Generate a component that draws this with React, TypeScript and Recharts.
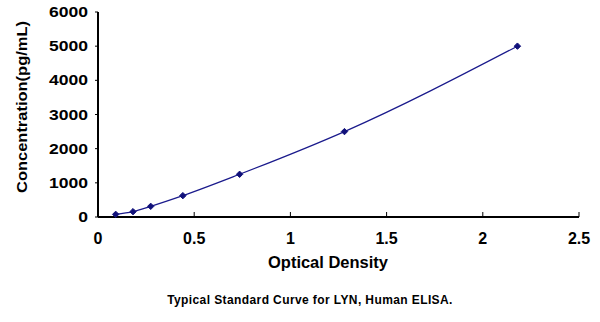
import React from "react";
import { ComposedChart, Line, XAxis, YAxis, Label } from "recharts";

// Standard curve readings
const opticalDensity = [0.092, 0.182, 0.274, 0.441, 0.736, 1.281, 2.18];
const concentration = [78, 156, 312, 625, 1250, 2500, 5000];
const xTicks = [0, 0.5, 1, 1.5, 2, 2.5];
const yTicks = [0, 1000, 2000, 3000, 4000, 5000, 6000];

const data = opticalDensity.map((od, i) => ({ od, conc: concentration[i] }));

const FONT = '"Liberation Sans", Arial, sans-serif';
const NAVY = "#1a1a8c";

function Diamond(props: any) {
  const { cx, cy } = props;
  if (cx == null || cy == null) return null;
  const r = 3.2;
  return (
    <path
      d={`M${cx},${cy - r}L${cx + r},${cy}L${cx},${cy + r}L${cx - r},${cy}Z`}
      fill="#10107a"
      stroke="#10107a"
    />
  );
}

function XTick(props: any) {
  const { x, y, payload } = props;
  return (
    <g>
      <line x1={x} y1={y} x2={x} y2={y - 5} stroke="#000" strokeWidth={1} />
      <text
        x={x}
        y={y + 27}
        textAnchor="middle"
        fontFamily={FONT}
        fontWeight="bold"
        fontSize={16}
        fill="#000"
      >
        {payload.value}
      </text>
    </g>
  );
}

function YTick(props: any) {
  const { x, y, payload } = props;
  const s = String(payload.value);
  return (
    <text
      x={x}
      y={y + 5}
      textAnchor="end"
      fontFamily={FONT}
      fontWeight="bold"
      fontSize={14}
      fill="#000"
      textLength={s.length * 9.75}
      lengthAdjust="spacingAndGlyphs"
    >
      {s}
    </text>
  );
}

function YLabel() {
  return (
    <text
      x={27}
      y={107}
      transform="rotate(-90 27 107)"
      textAnchor="middle"
      fontFamily={FONT}
      fontWeight="bold"
      fontSize={14}
      fill="#000"
      textLength={172}
      lengthAdjust="spacingAndGlyphs"
    >
      Concentration(pg/mL)
    </text>
  );
}

function XLabel() {
  return (
    <text
      x={328}
      y={268}
      textAnchor="middle"
      fontFamily={FONT}
      fontWeight="bold"
      fontSize={16}
      fill="#000"
      textLength={120}
      lengthAdjust="spacingAndGlyphs"
    >
      Optical Density
    </text>
  );
}

export default function App() {
  return (
    <div style={{ position: "absolute", left: 0, top: 0, width: 600, height: 322, background: "#fff" }}>
      <ComposedChart
        width={600}
        height={322}
        data={data}
        margin={{ top: 12, right: 21, bottom: 0, left: 0 }}
      >
        <XAxis
          dataKey="od"
          type="number"
          domain={[0, 2.5]}
          ticks={xTicks}
          tickSize={0}
          tickMargin={0}
          tick={<XTick />}
          axisLine={{ stroke: "#000", strokeWidth: 2 }}
          tickLine={false}
          height={105}
        >
          <Label content={<XLabel />} />
        </XAxis>
        <YAxis
          dataKey="conc"
          type="number"
          domain={[0, 6000]}
          ticks={yTicks}
          width={98}
          tickSize={3}
          tickMargin={7}
          tick={<YTick />}
          axisLine={{ stroke: "#000", strokeWidth: 2 }}
          tickLine={{ stroke: "#000" }}
        >
          <Label content={<YLabel />} />
        </YAxis>
        <Line
          type="monotone"
          dataKey="conc"
          stroke={NAVY}
          strokeWidth={1.2}
          dot={<Diamond />}
          activeDot={false}
          isAnimationActive={false}
        />
      </ComposedChart>
      <div
        style={{
          position: "absolute",
          left: 20,
          top: 293,
          width: 580,
          textAlign: "center",
          fontFamily: FONT,
          fontWeight: "bold",
          fontSize: 12,
          letterSpacing: 0.4,
          color: "#000",
        }}
      >
        Typical Standard Curve for LYN, Human ELISA.
      </div>
    </div>
  );
}
